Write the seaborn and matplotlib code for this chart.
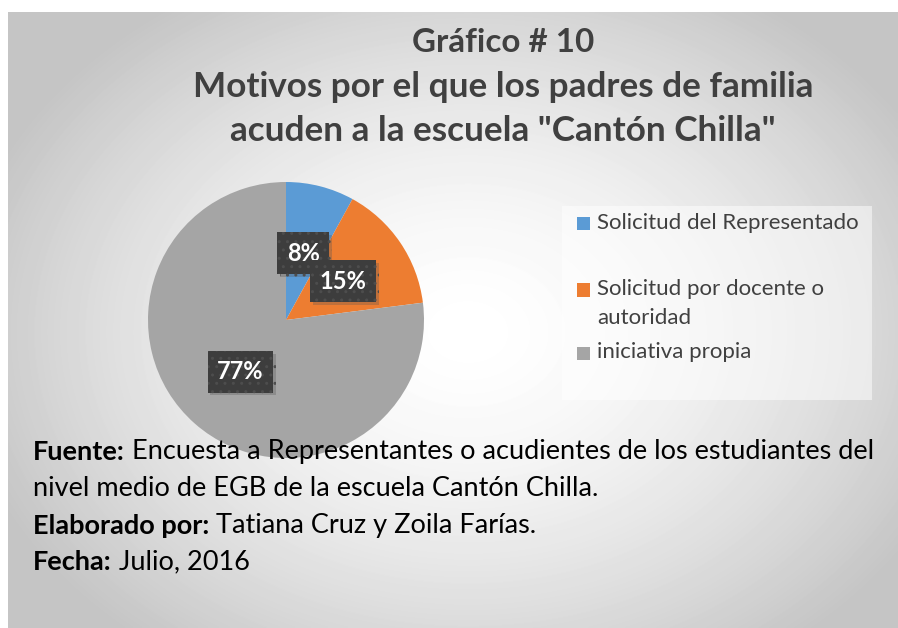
import numpy as np
import matplotlib
matplotlib.use("Agg")
import matplotlib.pyplot as plt
import matplotlib.patheffects as pe
from matplotlib.patches import Rectangle
import seaborn as sns

W, H = 898, 628
FONT = ["Lato", "DejaVu Sans"]

categories = ["Solicitud del Representado", "Solicitud por docente o\nautoridad", "iniciativa propia"]
percentages = [8, 15, 77]
colors = sns.color_palette(["#5B9BD5", "#ED7D31", "#A5A5A5"])

title_lines = ["Gráfico # 10",
               "Motivos por el que los padres de familia",
               "acuden a la escuela \"Cantón Chilla\""]
notes = [("Fuente:", " Encuesta a Representantes o acudientes de los estudiantes del"),
         ("", "nivel medio de EGB de la escuela Cantón Chilla."),
         ("Elaborado por:", " Tatiana Cruz y Zoila Farías."),
         ("Fecha:", " Julio, 2016")]

sns.set_style("white")
plt.rcParams['font.family'] = FONT

fig = plt.figure(figsize=(W / 100, H / 100), dpi=100)
fig.patch.set_facecolor("white")


def px(x, y):
    # pixel coords (from top-left) -> figure fraction
    return x / W, 1 - y / H


# background panel with radial gradient
bg = fig.add_axes([8 / W, 0, (W - 8) / W, (H - 12) / H], zorder=-5)
yy, xx = np.mgrid[0:H - 12, 0:W - 8]
r = np.sqrt(((xx - 460) / 520.0) ** 2 + ((yy - 320) / 400.0) ** 2)
val = 1 - 0.23 * np.clip(r, 0, 1) ** 1.6
bg.imshow(val, cmap="gray", vmin=0, vmax=1, aspect="auto", interpolation="bilinear")
bg.set_axis_off()

# pie
cx, cy, rad = 286, 320, 138
ax = fig.add_axes([(cx - rad) / W, (H - cy - rad) / H, 2 * rad / W, 2 * rad / H], zorder=1)
wedges, texts, autotexts = ax.pie(percentages, colors=colors, startangle=90, counterclock=False,
                                  autopct=lambda p: f"{p:.0f}%", pctdistance=0.5,
                                  wedgeprops=dict(linewidth=0))
ax.set_xlim(-1, 1)
ax.set_ylim(-1, 1)
for t in autotexts:
    t.set_color("white")
    t.set_fontsize(17)
    t.set_fontweight("bold")
    t.set_bbox(dict(boxstyle="square,pad=0.4", facecolor="#3d3d3d", edgecolor="#4d4d4d",
                    hatch="..", linewidth=0))
    t.get_bbox_patch().set_path_effects([pe.SimplePatchShadow(offset=(2, -2), shadow_rgbFace="#555555",
                                                              alpha=0.3), pe.Normal()])

# legend panel
lx0, ly0, lx1, ly1 = 562, 206, 872, 400
fig.patches.append(Rectangle(px(lx0, ly1), (lx1 - lx0) / W, (ly1 - ly0) / H,
                             transform=fig.transFigure, facecolor="white", alpha=0.5,
                             edgecolor="none", zorder=2))
leg_y = [224, 290, 353]
for lab, col, y in zip(categories, colors, leg_y):
    fig.patches.append(Rectangle(px(577, y + 6.5), 13 / W, 13 / H, transform=fig.transFigure,
                                 facecolor=col, edgecolor="none", zorder=3))
    fig.text(*px(597, y - 11), lab, ha="left", va="top", fontsize=16, color="#404040",
             linespacing=1.55, zorder=3)

# title
renderer = fig.canvas.get_renderer()
title_y = [42, 87, 131]
title_w = [182, 619, 545]
for line, y, tw in zip(title_lines, title_y, title_w):
    t = fig.text(*px(503, y), line, ha="center", va="center", fontsize=22,
                 fontweight="bold", color="#404040", zorder=3)
    w = t.get_window_extent(renderer).width
    t.set_fontsize(22 * tw / w)

# source notes
note_y = [452, 489, 526, 562]
base = 16
parts = []
for (b, rest), y in zip(notes, note_y):
    tb = fig.text(*px(33, y), b, ha="left", va="center", fontsize=base, fontweight="bold",
                  color="black", zorder=4)
    tr = fig.text(*px(33, y), rest, ha="left", va="center", fontsize=base, color="black", zorder=4)
    parts.append((tb, tr, y))
tb, tr, _ = parts[0]
total = tb.get_window_extent(renderer).width + tr.get_window_extent(renderer).width
size = base * (878 - 33) / total
for tb, tr, y in parts:
    tb.set_fontsize(size)
    tr.set_fontsize(size)
    wb = tb.get_window_extent(renderer).width if tb.get_text() else 0
    tr.set_position(px(33 + wb, y))

fig.savefig("out.png", dpi=100)
